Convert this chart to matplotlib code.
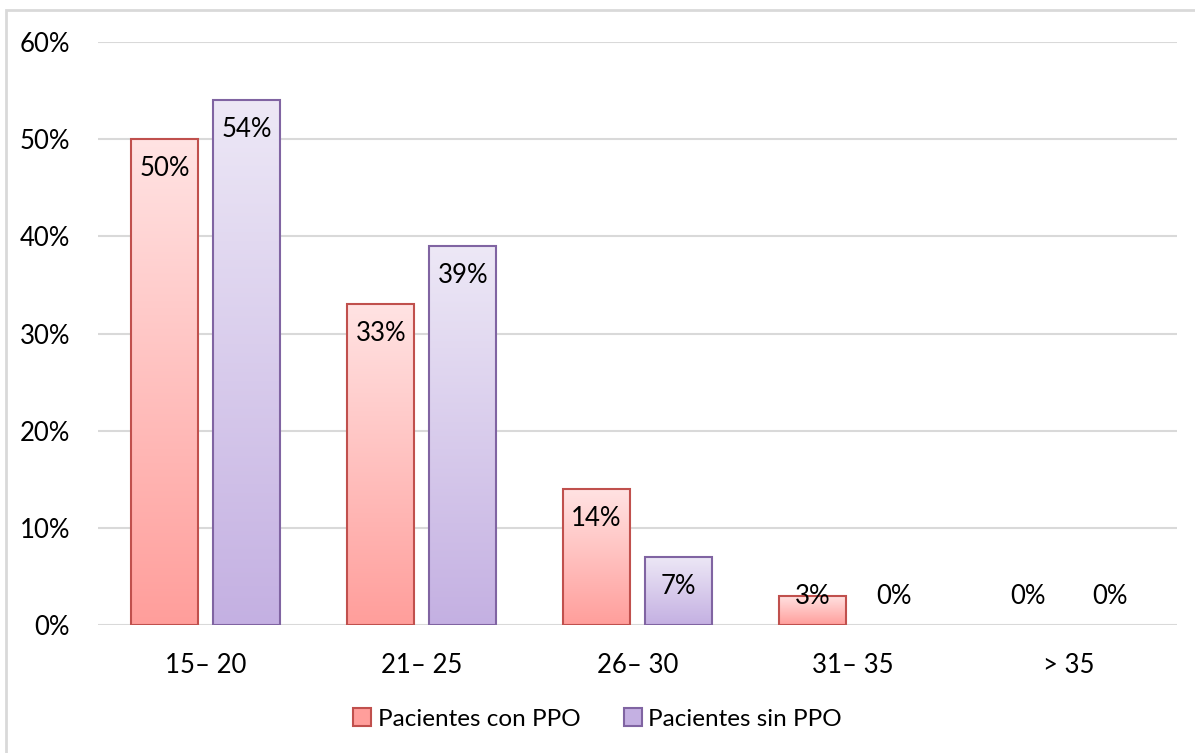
import numpy as np
import matplotlib
matplotlib.use("Agg")
import matplotlib.pyplot as plt
from matplotlib.colors import LinearSegmentedColormap
from matplotlib.patches import Patch, Rectangle

plt.rcParams['font.family'] = ['Lato', 'DejaVu Sans']

grupos = ["15\u2013 20", "21\u2013 25", "26\u2013 30", "31\u2013 35", "> 35"]
con_ppo = [50, 33, 14, 3, 0]
sin_ppo = [54, 39, 7, 0, 0]
series = ["Pacientes con PPO", "Pacientes sin PPO"]

# (top colour, bottom colour, edge colour) for each series
estilos = [("#FFE3E3", "#FF9E9B", "#C0504D"),
           ("#EDE8F6", "#C4B0E2", "#8064A2")]

fig = plt.figure(figsize=(11.95, 7.53), dpi=100)
ax = fig.add_axes([98/1195, 128/753, 1079/1195, 583/753])

# light grey frame around the chart area
fig.patches.append(Rectangle((6/1195, -0.05), 1.1, (753-10.5)/753 + 0.05,
                             transform=fig.transFigure, fill=False,
                             edgecolor="#D9D9D9", linewidth=2))

x = np.arange(len(grupos))
ancho = 0.31
desp = 0.19
fs = 18.5

for i, (vals, (c_top, c_bot, c_edge)) in enumerate(zip([con_ppo, sin_ppo], estilos)):
    pos = x + (-desp if i == 0 else desp)
    bars = ax.bar(pos, vals, ancho, facecolor="none", edgecolor=c_edge,
                  linewidth=1.5, zorder=3)
    cmap = LinearSegmentedColormap.from_list("g%d" % i, [c_bot, c_top])
    grad = np.linspace(0, 1, 256).reshape(-1, 1)
    for b, v in zip(bars, vals):
        if v == 0:
            b.set_visible(False)
        else:
            x0 = b.get_x()
            im = ax.imshow(grad, cmap=cmap, origin="lower", aspect="auto",
                           extent=(x0, x0 + b.get_width(), 0, v), zorder=2)
            im.set_clip_path(b)
        ax.text(b.get_x() + b.get_width() / 2, max(v - 3.0, 2.9), "%d%%" % v,
                ha="center", va="center", fontsize=fs, color="black", zorder=4)

ax.set_xlim(-0.5, len(grupos) - 0.5)
ax.set_ylim(0, 60)
ax.set_yticks(range(0, 61, 10))
ax.set_yticklabels(["%d%%" % t for t in range(0, 61, 10)])
ax.set_xticks(x)
ax.set_xticklabels(grupos)
ax.tick_params(axis="y", length=0, pad=20, labelsize=fs)
ax.tick_params(axis="x", length=0, pad=20, labelsize=fs)
ax.grid(axis="y", color="#D9D9D9", linewidth=1.5, zorder=0)
ax.set_axisbelow(True)
for s in ax.spines.values():
    s.set_visible(False)

handles = [Patch(facecolor=est[1], edgecolor=est[2], linewidth=1.5) for est in estilos]
fig.legend(handles, series, loc="center", bbox_to_anchor=(0.5, 34/753), ncol=2,
           frameon=False, fontsize=17.5, handlelength=0.75, handleheight=0.75,
           handletextpad=0.25, columnspacing=1.8)

fig.savefig("out.png", dpi=100)
